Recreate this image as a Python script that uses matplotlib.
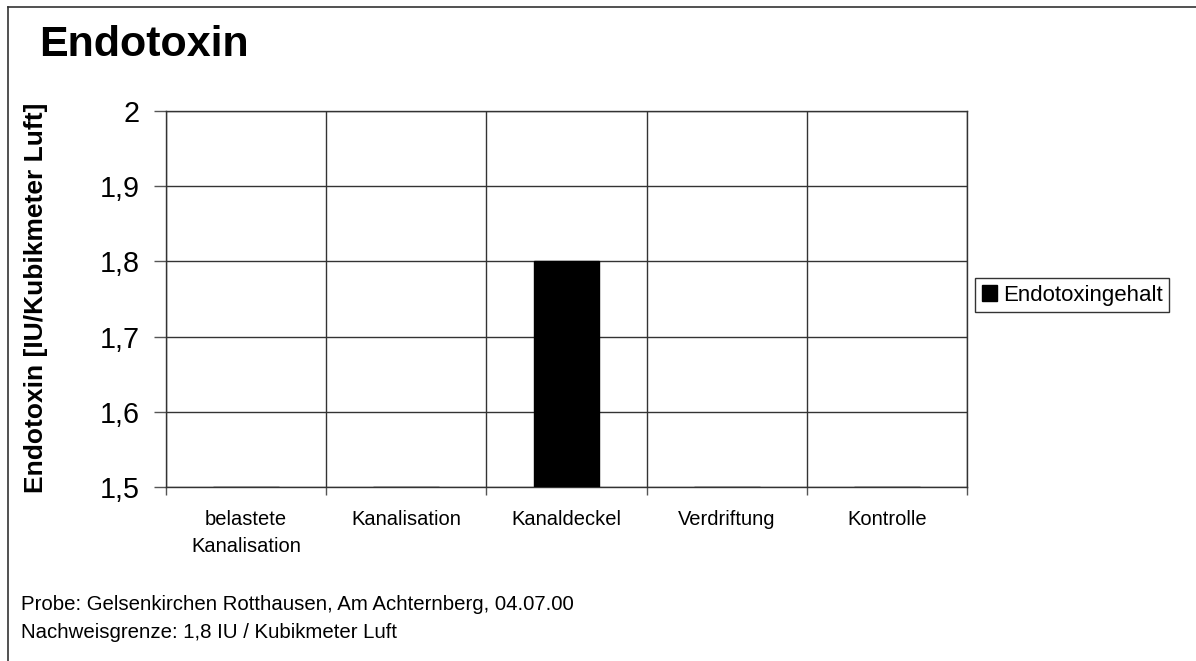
import numpy as np
import matplotlib.pyplot as plt
from matplotlib.lines import Line2D
from matplotlib.patches import Patch

plt.rcParams['font.family'] = ['Liberation Sans', 'DejaVu Sans']

categories = ["belastete\nKanalisation", "Kanalisation", "Kanaldeckel", "Verdriftung", "Kontrolle"]
values = [np.nan, np.nan, 1.8, np.nan, np.nan]
y_ticks = [1.5, 1.6, 1.7, 1.8, 1.9, 2.0]
series_name = "Endotoxingehalt"

fig = plt.figure(figsize=(11.96, 6.61), dpi=100)
W, H = 1196, 661
ax = fig.add_axes([166 / W, 1 - 487 / H, (967 - 166) / W, (487 - 111) / H])

x = np.arange(len(categories))
ax.bar(x, [0 if np.isnan(v) else v - 1.5 for v in values], bottom=1.5,
       width=0.41, color="black", edgecolor="black", zorder=3)

ax.set_xlim(-0.5, len(categories) - 0.5)
ax.set_ylim(1.5, 2.0)
ax.set_yticks(y_ticks)
ax.set_yticklabels([f"{t:.1f}".replace(".", ",") if t != 2.0 else "2" for t in y_ticks], fontsize=20.7)
ax.tick_params(axis="y", length=9, width=1, color="#555555", pad=10)

# category boundaries carry the x ticks and vertical grid
ax.set_xticks(np.arange(-0.5, len(categories), 1.0))
ax.set_xticklabels([])
ax.set_xticks(x, minor=True)
ax.set_xticklabels(categories, minor=True, fontsize=14.5, linespacing=1.55)
ax.tick_params(axis="x", which="major", length=6, width=1, color="#555555")
ax.tick_params(axis="x", which="minor", length=0, pad=16.5)
ax.grid(True, which="major", color="#333333", linewidth=1, zorder=0)
for s in ax.spines.values():
    s.set_color("#333333")
    s.set_linewidth(1)

ax.set_ylabel("Endotoxin [IU/Kubikmeter Luft]", fontsize=19, fontweight="bold", labelpad=0)
ax.yaxis.set_label_coords(-118 / 801, (487 - 298) / 376)

fig.text(39 / W, 1 - 45 / H, "Endotoxin", fontsize=31, fontweight="bold", va="center", ha="left")

leg = fig.legend(handles=[Patch(facecolor="black", edgecolor="black", label=series_name)],
                 loc="upper left", bbox_to_anchor=(975 / W, 1 - 278 / H), fontsize=16,
                 frameon=True, fancybox=False, edgecolor="black", handlelength=0.7,
                 handleheight=0.7, handletextpad=0.25, borderpad=0.3, borderaxespad=0)
leg.get_frame().set_linewidth(1)

fig.text(21 / W, 1 - 605 / H, "Probe: Gelsenkirchen Rotthausen, Am Achternberg, 04.07.00",
         fontsize=14.7, va="center")
fig.text(21 / W, 1 - 632 / H, "Nachweisgrenze: 1,8 IU / Kubikmeter Luft",
         fontsize=14.7, va="center")

# outer chart border (left and top only visible)
fig.add_artist(Line2D([8 / W, 8 / W], [0, 1 - 7 / H], color="#333333", linewidth=1.2))
fig.add_artist(Line2D([8 / W, 1], [1 - 7 / H, 1 - 7 / H], color="#333333", linewidth=1.2))

fig.savefig("out.png", dpi=100)
